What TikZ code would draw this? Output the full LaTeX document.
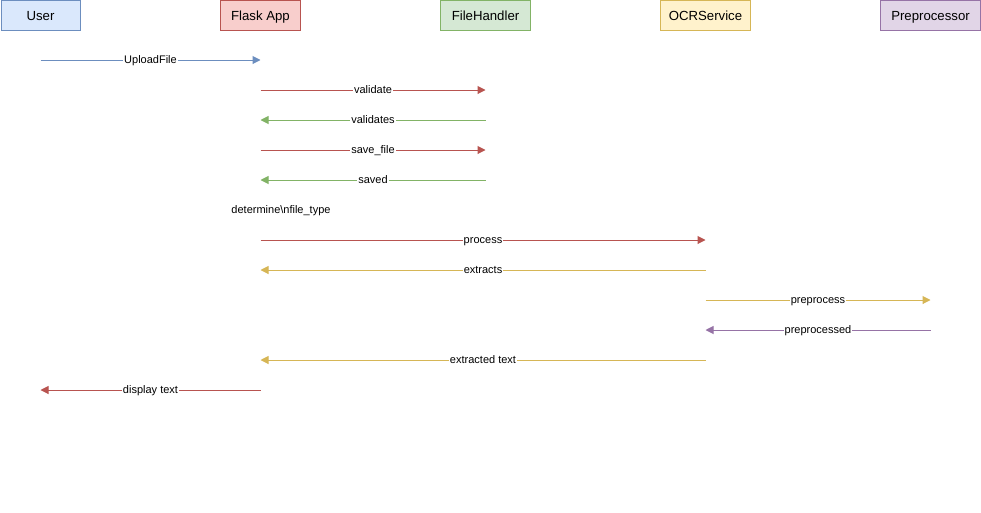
\documentclass[tikz,border=0pt]{standalone}
\usepackage{fontspec}
\setmainfont{Liberation Sans}
\usetikzlibrary{arrows.meta}
\definecolor{userfill}{HTML}{DAE8FC}
\definecolor{userline}{HTML}{6C8EBF}
\definecolor{appfill}{HTML}{F8CECC}
\definecolor{appline}{HTML}{B85450}
\definecolor{filefill}{HTML}{D5E8D4}
\definecolor{fileline}{HTML}{82B366}
\definecolor{ocrfill}{HTML}{FFF2CC}
\definecolor{ocrline}{HTML}{D6B656}
\definecolor{prepfill}{HTML}{E1D5E7}
\definecolor{prepline}{HTML}{9673A6}

\begin{document}
\begin{tikzpicture}[x=1pt,y=-1pt,
  actor/.style={draw, line width=1pt, minimum height=30pt, inner sep=0pt, text height=9.5pt, text depth=0pt, text=black, font=\fontsize{13.2}{15}\selectfont},
  msg/.style={-{Triangle[length=8pt,width=8pt]}, line width=1pt},
  lbl/.style={fill=white, inner sep=1pt, text height=7.9pt, text depth=0pt, text=black, font=\fontsize{11}{13}\selectfont}]
  \useasboundingbox (0,0) rectangle (981,512);
  \node [actor, minimum width=79pt, fill=userfill, draw=userline] (user) at (40.5,15.5) {User};
  \node [actor, minimum width=80pt, fill=appfill, draw=appline] (flask) at (260.5,15.5) {Flask App};
  \node [actor, minimum width=90pt, fill=filefill, draw=fileline] (files) at (485.5,15.5) {FileHandler};
  \node [actor, minimum width=90pt, fill=ocrfill, draw=ocrline] (ocr) at (705.5,15.5) {OCRService};
  \node [actor, minimum width=100pt, fill=prepfill, draw=prepline] (prep) at (930.5,15.5) {Preprocessor};
  \coordinate (m1) at (0,60);
  \coordinate (m2) at (0,90);
  \coordinate (m3) at (0,120);
  \coordinate (m4) at (0,150);
  \coordinate (m5) at (0,180);
  \coordinate (m6) at (0,240);
  \coordinate (m7) at (0,270);
  \coordinate (m8) at (0,300);
  \coordinate (m9) at (0,330);
  \coordinate (m10) at (0,360);
  \coordinate (m11) at (0,390);
  \node [lbl] (note) at (281,210) {determine\textbackslash nfile\_type};
  \draw [msg, userline] (user |- m1) -- node [lbl] {UploadFile} (flask |- m1);
  \draw [msg, appline] (flask |- m2) -- node [lbl] {validate} (files |- m2);
  \draw [msg, fileline] (files |- m3) -- node [lbl] {validates} (flask |- m3);
  \draw [msg, appline] (flask |- m4) -- node [lbl] {save\_file} (files |- m4);
  \draw [msg, fileline] (files |- m5) -- node [lbl] {saved} (flask |- m5);
  \draw [msg, appline] (flask |- m6) -- node [lbl] {process} (ocr |- m6);
  \draw [msg, ocrline] (ocr |- m7) -- node [lbl] {extracts} (flask |- m7);
  \draw [msg, ocrline] (ocr |- m8) -- node [lbl] {preprocess} (prep |- m8);
  \draw [msg, prepline] (prep |- m9) -- node [lbl] {preprocessed} (ocr |- m9);
  \draw [msg, ocrline] (ocr |- m10) -- node [lbl] {extracted text} (flask |- m10);
  \draw [msg, appline] (flask |- m11) -- node [lbl] {display text} (user |- m11);
\end{tikzpicture}
\end{document}
